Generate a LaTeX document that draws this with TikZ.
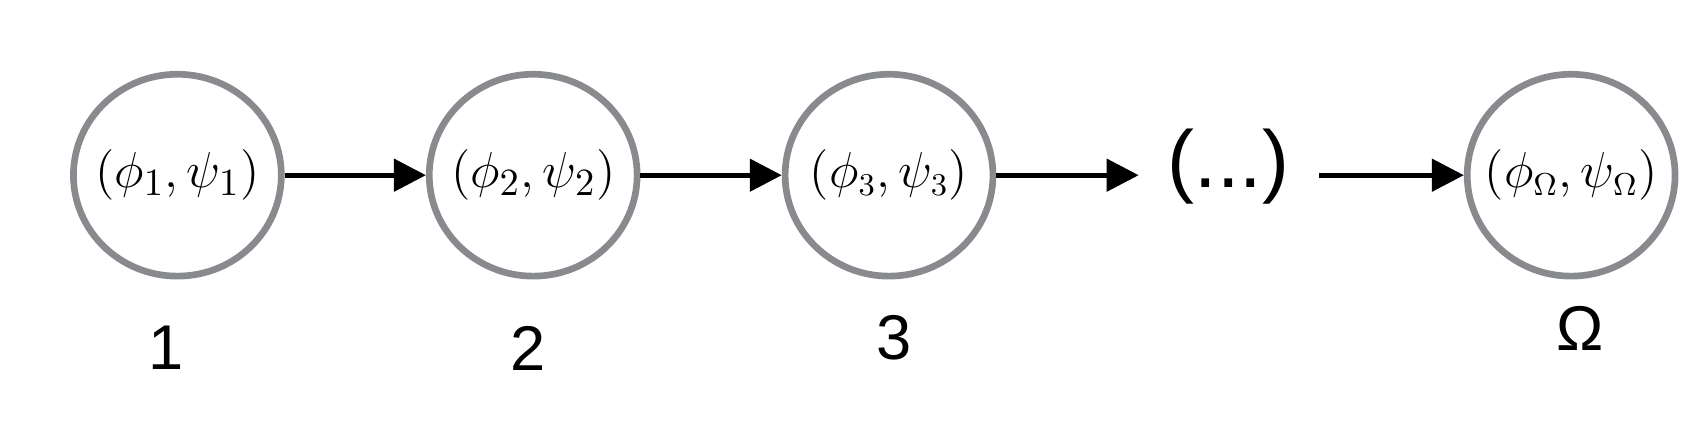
\documentclass[tikz,border=0pt]{standalone}
\usepackage{fontspec}
\newfontfamily\lab{Liberation Sans}
\usetikzlibrary{shapes.geometric,arrows.meta}
\definecolor{ring}{RGB}{136,138,142}
\tikzset{
  state/.style={ellipse,draw=ring,line width=1.9pt,minimum width=2.08cm,minimum height=2.02cm,inner sep=0pt},
  conn/.style={line width=1.4pt,-{Triangle[length=0.32cm,width=0.32cm]}},
  lbl/.style={font=\lab\fontsize{18}{21}\selectfont}
}
\begin{document}
\begin{tikzpicture}[x=0.01095cm,y=-0.01095cm]
\useasboundingbox (0,0) rectangle (1560,404);
\node[state,font=\fontsize{15}{17}\selectfont] (n1) at (162,160) {\makebox[0pt]{$(\phi_1,\psi_1)$}};
\node[state,font=\fontsize{15}{17}\selectfont] (n2) at (487,160) {\makebox[0pt]{$(\phi_2,\psi_2)$}};
\node[state,font=\fontsize{13.5}{16}\selectfont] (n3) at (812,160) {\makebox[0pt]{$(\phi_3,\psi_3)$}};
\node[font=\lab\fontsize{23}{27}\selectfont] (dots) at (1122,152) {(...)};
\node[state,font=\fontsize{13.5}{16}\selectfont] (nO) at (1435,160) {\makebox[0pt]{$(\phi_\Omega,\psi_\Omega)$}};
\coordinate (d1) at (1040,160);
\coordinate (d2) at (1205,160);
\draw[conn] (n1) -- (n2);
\draw[conn] (n2) -- (n3);
\draw[conn] (n3.east) -- (d1);
\draw[conn] (d2) -- (nO.west);
\node[lbl] (l1) at (152,318) {1};
\node[lbl] (l2) at (482,318) {2};
\node[lbl] (l3) at (817,308) {3};
\node[lbl] (lO) at (1443,300) {Ω};
\end{tikzpicture}
\end{document}
